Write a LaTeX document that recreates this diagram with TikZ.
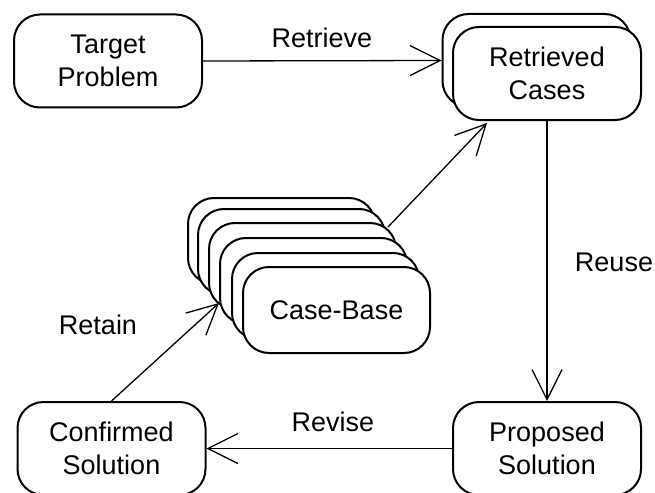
\documentclass[tikz,border=0pt]{standalone}
\usepackage{fontspec}
\setmainfont{Liberation Sans}
\usetikzlibrary{arrows.meta,calc}
\begin{document}
\begin{tikzpicture}[x=1pt,y=-1pt,
  box/.style={draw, line width=2pt, fill=white, rounded corners=26pt,
    minimum width=188pt, minimum height=93pt, inner sep=0pt, align=center,
    font=\fontsize{27}{33}\selectfont},
  cbbox/.style={box, minimum width=187pt, minimum height=86pt},
  flow/.style={line width=1.3pt, -{Straight Barb[length=30pt,width=30pt]}},
  lbl/.style={font=\fontsize{27}{33}\selectfont, inner sep=0pt}]
\useasboundingbox (0,0) rectangle (655,492);

% process states
\node[box] (tp) at (108,61) {Target\\Problem};
\node[box] (rcb) at (536.5,60.5) {};
\node[box] (rc) at (547,73.5) {Retrieved\\Cases};
\node[box] (prop) at (547,448.5) {Proposed\\Solution};
\node[box] (conf) at (111.5,448.5) {Confirmed\\Solution};

% stacked case-base, back to front
\node[cbbox] (cb1) at (281.5,241) {};
\node[cbbox] (cb2) at (291.5,252) {};
\node[cbbox] (cb3) at (302.5,266) {};
\node[cbbox] (cb4) at (313.5,281) {};
\node[cbbox] (cb5) at (325.5,296) {};
\node[cbbox] (cb) at (336.5,310) {Case-Base};

% cycle connectors
\coordinate (cbout) at ($(cb3.north east)+(-9,5)$);
\coordinate (rcin) at ($(rc.south west)+(35,2)$);
\coordinate (cbin) at ($(cb4.south west)+(0,-22)$);
\draw[flow] (tp.east) -- (rcb.west);
\draw[flow] (rc.south) -- (prop.north);
\draw[flow] (prop.west) -- (conf.east);
\draw[flow] (conf.north) -- (cbin);
\draw[flow] (cbout) -- (rcin);

% step labels
\node[lbl] (lret) at (322,38) {Retrieve};
\node[lbl] (lreu) at (614,262) {Reuse};
\node[lbl] (lrev) at (333,422) {Revise};
\node[lbl] (lrtn) at (98,325) {Retain};
\end{tikzpicture}
\end{document}
